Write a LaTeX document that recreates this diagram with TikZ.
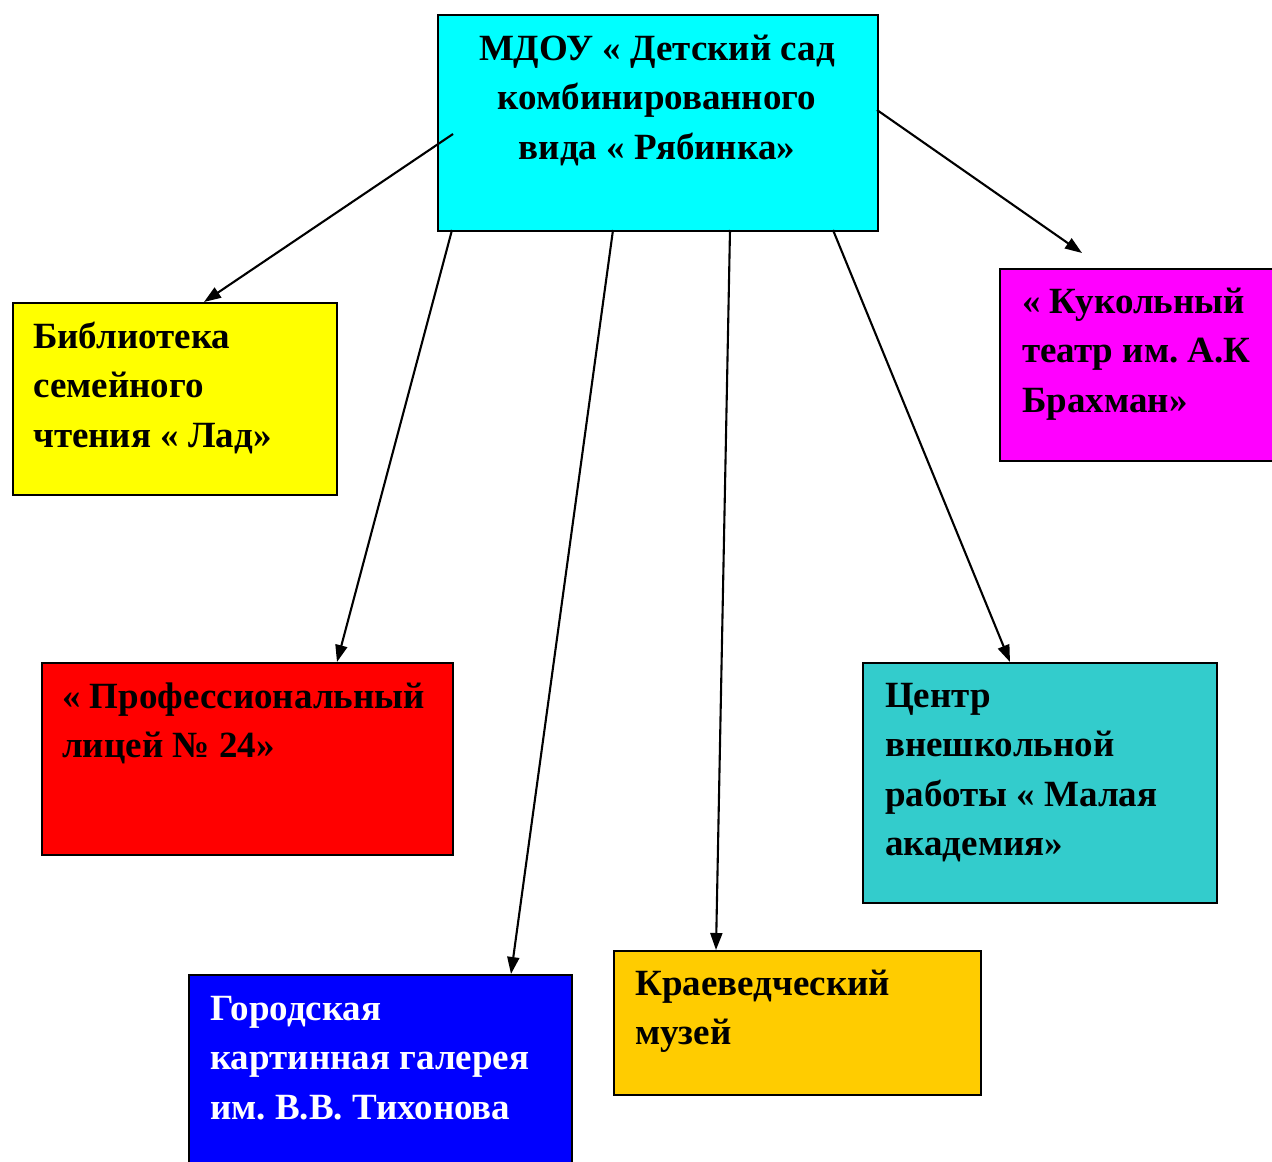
\documentclass[tikz,border=0pt]{standalone}
\usepackage{fontspec}
\setmainfont{Liberation Serif}
\frenchspacing
\usetikzlibrary{arrows.meta}
\definecolor{cMain}{HTML}{00FFFF}
\definecolor{cLib}{HTML}{FFFF00}
\definecolor{cPup}{HTML}{FF00FF}
\definecolor{cLyc}{HTML}{FF0000}
\definecolor{cGal}{HTML}{0000FF}
\definecolor{cMus}{HTML}{FFCC00}
\definecolor{cCen}{HTML}{33CCCC}
\tikzset{
  box/.style={draw=black, line width=2pt, inner sep=0pt},
  lbl/.style={anchor=base west, inner sep=0pt, font=\fontsize{37}{49.5}\selectfont\bfseries},
  conn/.style={draw=black, line width=2.1pt, -{Triangle[length=17pt,width=12pt]}}
}
\begin{document}
\begin{tikzpicture}[x=1pt,y=-1pt]
\useasboundingbox (0,0) rectangle (1272,1162);
\clip (0,0) rectangle (1272,1162);
% boxes
\node[box, fill=cMain, minimum width=440pt, minimum height=216pt, anchor=north west] (main) at (437,14) {};
\node[box, fill=cLib, minimum width=324pt, minimum height=192pt, anchor=north west] (lib) at (12,302) {};
\node[box, fill=cPup, minimum width=290pt, minimum height=192pt, anchor=north west] (pup) at (999,268) {};
\node[box, fill=cLyc, minimum width=411pt, minimum height=192pt, anchor=north west] (lyc) at (41,662) {};
\node[box, fill=cGal, minimum width=383pt, minimum height=200pt, anchor=north west] (gal) at (188,974) {};
\node[box, fill=cMus, minimum width=367pt, minimum height=144pt, anchor=north west] (mus) at (613,950) {};
\node[box, fill=cCen, minimum width=354pt, minimum height=240pt, anchor=north west] (cen) at (862,662) {};
% texts
\node[lbl, anchor=base] (maint) at (657,60) {\parbox[t]{440pt}{\centering МДОУ « Детский сад\\комбинированного\\вида « Рябинка»}};
\node[lbl] (libt) at (33,348) {\parbox[t]{300pt}{Библиотека\\семейного\\чтения « Лад»}};
\node[lbl] (pupt) at (1022,313) {\parbox[t]{260pt}{« Кукольный\\театр им. А.К\\Брахман»}};
\node[lbl] (lyct) at (62,708) {\parbox[t]{400pt}{« Профессиональный\\лицей № 24»}};
\node[lbl, text=white] (galt) at (210,1020) {\parbox[t]{360pt}{Городская\\картинная галерея\\им. В.В. Тихонова}};
\node[lbl] (must) at (635,995) {\parbox[t]{340pt}{Краеведческий\\музей}};
\node[lbl] (cent) at (885,707) {\parbox[t]{330pt}{Центр\\внешкольной\\работы « Малая\\академия»}};
% connectors
\coordinate (s1) at (453,134);
\coordinate (s2) at (452,230);
\coordinate (s3) at (613,230);
\coordinate (s4) at (730,230);
\coordinate (s5) at (833,230);
\coordinate (s6) at (877,110);
\coordinate (e1) at (204,302);
\coordinate (e2) at (337,662);
\coordinate (e3) at (511,974);
\coordinate (e4) at (716,950);
\coordinate (e5) at (1010,662);
\coordinate (e6) at (1082,253);
\draw[conn] (s1) -- (e1);
\draw[conn] (s2) -- (e2);
\draw[conn] (s3) -- (e3);
\draw[conn] (s4) -- (e4);
\draw[conn] (s5) -- (e5);
\draw[conn] (s6) -- (e6);
\end{tikzpicture}
\end{document}
